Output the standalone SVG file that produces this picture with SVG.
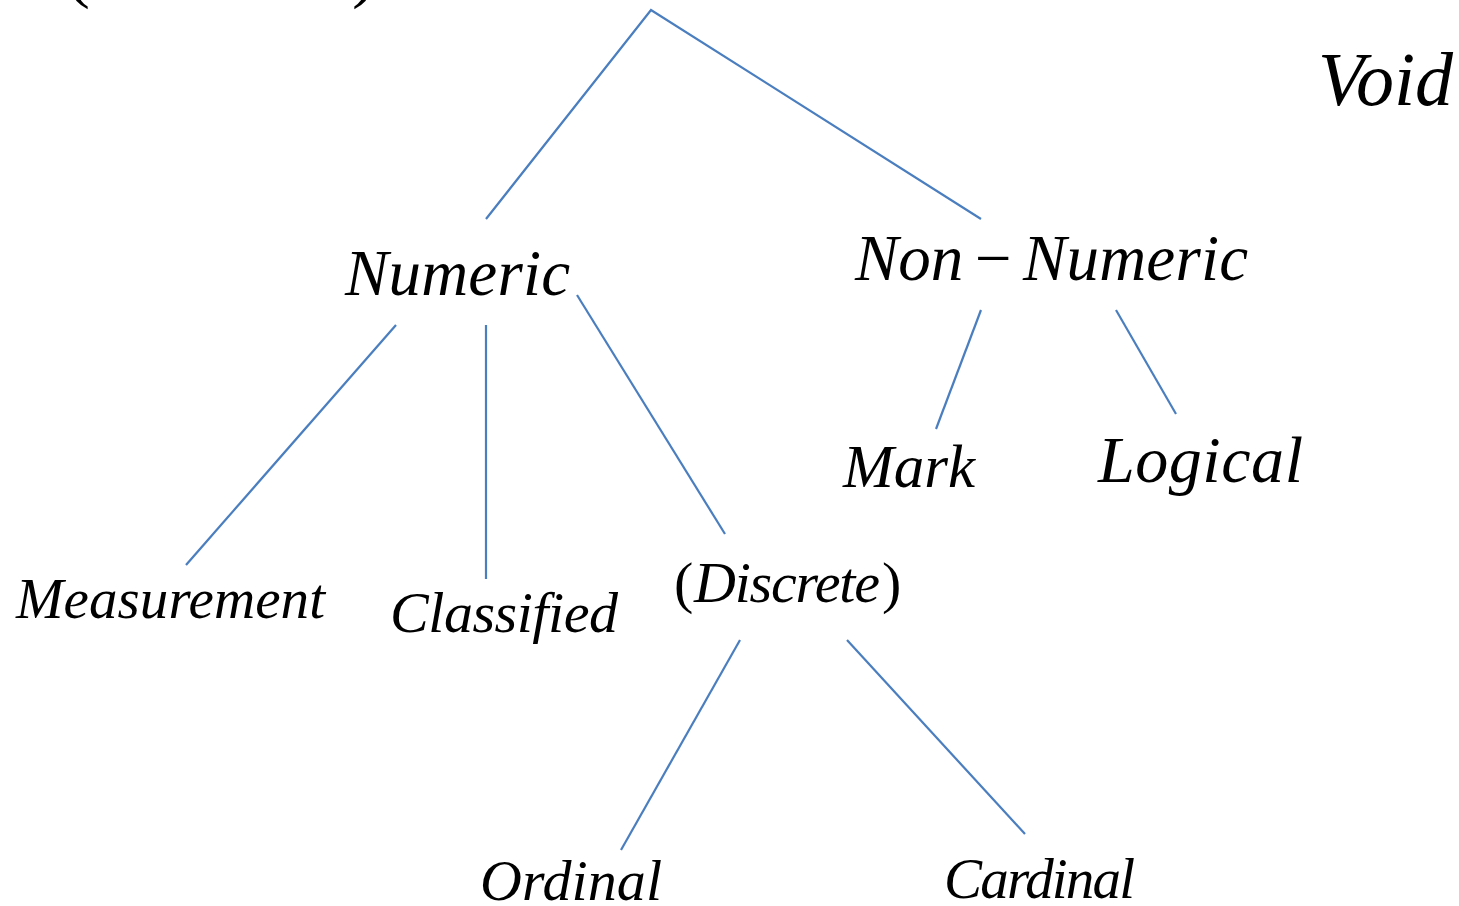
<svg xmlns="http://www.w3.org/2000/svg" width="1459" height="906" viewBox="0 0 1459 906">
  <style>
    .lbl { font-family: "Liberation Serif", "Times New Roman", serif; font-style: italic; fill: #000; }
    .up { font-style: normal; }
    .edge { stroke: #4a7ebf; stroke-width: 2.2; fill: none; }
  </style>
  <rect width="1459" height="906" fill="#fff"/>

  <!-- connectors -->
  <g id="connectors">
    <path class="edge" d="M486 219 L651 10 L981 219"/>
    <line class="edge" x1="396" y1="325" x2="186" y2="565"/>
    <line class="edge" x1="486" y1="325" x2="486" y2="579"/>
    <line class="edge" x1="577" y1="295" x2="725" y2="534"/>
    <line class="edge" x1="981" y1="310" x2="936" y2="429"/>
    <line class="edge" x1="1116" y1="310" x2="1176" y2="414"/>
    <line class="edge" x1="740" y1="640" x2="621" y2="850"/>
    <line class="edge" x1="847" y1="640" x2="1025" y2="834"/>
  </g>

  <!-- root label, clipped at the top edge -->
  <g id="root">
    <text class="lbl up" x="66" y="-6" font-size="72">(</text>
    <text class="lbl up" x="352" y="-6" font-size="72">)</text>
  </g>

  <g id="void"><text class="lbl" x="1318" y="105" font-size="76" textLength="135">Void</text></g>
  <g id="numeric"><text class="lbl" x="345" y="295" font-size="65" textLength="225">Numeric</text></g>
  <g id="non-numeric">
    <text class="lbl" y="280" font-size="65"><tspan x="855">Non</tspan><tspan class="up" x="975">−</tspan><tspan x="1023" textLength="225">Numeric</tspan></text>
  </g>
  <g id="mark"><text class="lbl" x="843" y="487" font-size="61" textLength="132">Mark</text></g>
  <g id="logical"><text class="lbl" x="1098" y="482" font-size="66" textLength="205">Logical</text></g>
  <g id="measurement"><text class="lbl" x="16" y="618" font-size="57" textLength="309">Measurement</text></g>
  <g id="classified"><text class="lbl" x="390" y="632" font-size="58" textLength="228">Classified</text></g>
  <g id="discrete">
    <text class="lbl" y="602" font-size="58"><tspan class="up" x="674">(</tspan><tspan x="694" textLength="186">Discrete</tspan><tspan class="up" x="882">)</tspan></text>
  </g>
  <g id="ordinal"><text class="lbl" x="480" y="900" font-size="58" textLength="182">Ordinal</text></g>
  <g id="cardinal"><text class="lbl" x="944" y="898" font-size="57" textLength="191">Cardinal</text></g>
</svg>
